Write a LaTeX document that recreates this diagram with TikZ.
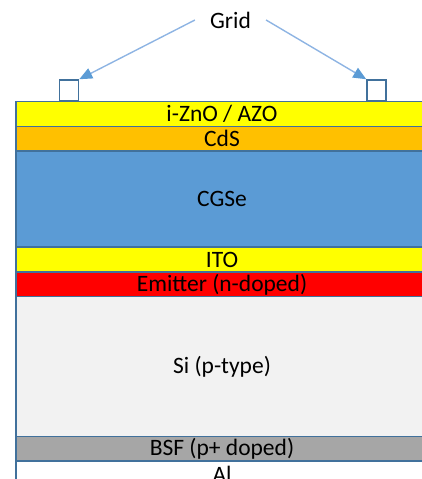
\documentclass[tikz,border=0pt]{standalone}
\usepackage{fontspec}
\setmainfont{Carlito}
\usetikzlibrary{arrows.meta}
\definecolor{edge}{HTML}{41719C}
\definecolor{arrowline}{HTML}{8EB4E3}
\definecolor{arrowhead}{HTML}{5B9BD5}
\definecolor{cYellow}{HTML}{FFFF00}
\definecolor{cOrange}{HTML}{FFC000}
\definecolor{cBlue}{HTML}{5B9BD5}
\definecolor{cRed}{HTML}{FF0000}
\definecolor{cLight}{HTML}{F2F2F2}
\definecolor{cGray}{HTML}{A6A6A6}
\tikzset{
  labelfont/.style={font=\fontsize{23.5}{27}\selectfont},
  layer/.style={draw=edge, line width=1.5pt, inner sep=0pt, outer sep=0pt,
    minimum width=412pt, labelfont, text=black},
  contact/.style={draw=edge, fill=white, line width=1.5pt, inner sep=0pt,
    minimum width=19pt, minimum height=21pt},
  pointer/.style={draw=arrowline, line width=1.4pt,
    -{Triangle[length=13pt,width=11pt,fill=arrowhead,color=arrowhead]}}
}
\begin{document}
\begin{tikzpicture}[x=1pt,y=1pt]
\useasboundingbox (0,0) rectangle (422,-479);
\begin{scope}
\clip (0,0) rectangle (422,-479);
% stack of layers, top to bottom
\node[layer, fill=white,   minimum height=26pt]   (al)   at (222,-474)   {Al};
\node[layer, fill=cGray,   minimum height=24.7pt] (bsf)  at (222,-448.65) {BSF (p+ doped)};
\node[layer, fill=cLight,  minimum height=139.6pt](si)   at (222,-366.5) {Si (p-type)};
\node[layer, fill=cRed,    minimum height=24.7pt] (emit) at (222,-284.35) {Emitter (n-doped)};
\node[layer, fill=cYellow, minimum height=25pt]   (ito)  at (222,-259.5) {ITO};
\node[layer, fill=cBlue,   minimum height=96pt]   (cgse) at (222,-199)   {CGSe};
\node[layer, fill=cOrange, minimum height=24.7pt] (cds)  at (222,-138.65) {CdS};
\node[layer, fill=cYellow, minimum height=24.8pt] (izno) at (222,-113.9) {i-ZnO / AZO};
% front grid contacts
\node[contact] (g1) at (69,-90.5) {};
\node[contact] (g2) at (376.5,-90.5) {};
\end{scope}
% label and pointers
\node[labelfont, inner xsep=15pt, inner ysep=2pt] (grid) at (230.5,-20) {Grid};
\draw[pointer] (grid.west) -- (g1.north east);
\draw[pointer] (grid.east) -- (g2.north west);
\end{tikzpicture}
\end{document}
